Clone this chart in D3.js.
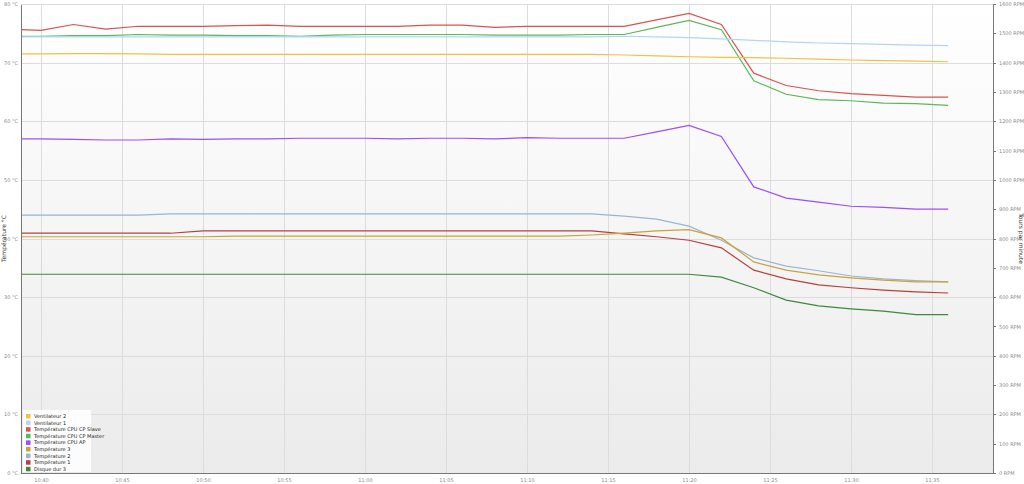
<!DOCTYPE html>
<html lang="fr">
<head>
  <meta charset="UTF-8">
  <title>Températures et ventilateurs</title>
  <style>
      body { margin: 0; background: #fff; }
      .line { fill: none; stroke-width: 1.2px; }
      .grid line { stroke: #dcdcdc; shape-rendering: crispEdges; }
      .grid path { stroke-width: 0; }
      .tick text { font: 5px "DejaVu Sans", sans-serif; fill: #8a8a8a; }
      .axis path, .axis line { stroke: #777; shape-rendering: crispEdges; }
  </style>
</head>
<body>
<div id="chart"></div>
<script src="https://d3js.org/d3.v7.min.js"></script>
<script>
  // relevés toutes les 2 minutes
  const times = ["10:38", "10:40", "10:42", "10:44", "10:46", "10:48", "10:50", "10:52", "10:54", "10:56",
                 "10:58", "11:00", "11:02", "11:04", "11:06", "11:08", "11:10", "11:12", "11:14", "11:16",
                 "11:18", "11:20", "11:22", "11:24", "11:26", "11:28", "11:30", "11:32", "11:34", "11:36"];

  const xTicks = ["10:40", "10:45", "10:50", "10:55", "11:00", "11:05", "11:10", "11:15", "11:20", "11:25", "11:30", "11:35"];
  const tempTicks = [0, 10, 20, 30, 40, 50, 60, 70, 80];
  const rpmTicks = [0, 100, 200, 300, 400, 500, 600, 700, 800, 900, 1000, 1100, 1200, 1300, 1400, 1500, 1600];

  // ventilateurs (RPM, axe de droite)
  const ventilateur2 = [1430, 1430, 1431, 1431, 1430, 1428, 1428, 1428, 1428, 1428, 1428, 1428, 1428, 1428, 1428,
                        1428, 1428, 1428, 1428, 1426, 1423, 1420, 1418, 1417, 1415, 1412, 1409, 1407, 1405, 1403];
  const ventilateur1 = [1488, 1488, 1488, 1488, 1488, 1488, 1488, 1488, 1488, 1488, 1488, 1488, 1488, 1488, 1488,
                        1488, 1488, 1488, 1488, 1490, 1488, 1485, 1481, 1476, 1471, 1467, 1465, 1462, 1460, 1458];

  // températures (°C, axe de gauche)
  const cpuCpSlave = [75.7, 75.5, 76.5, 75.7, 76.2, 76.2, 76.2, 76.3, 76.4, 76.2, 76.2, 76.2, 76.2, 76.4, 76.4,
                      76.0, 76.2, 76.2, 76.2, 76.2, 77.3, 78.4, 76.5, 68.2, 66.1, 65.2, 64.7, 64.4, 64.1, 64.1];
  const cpuCpMaster = [74.5, 74.5, 74.6, 74.6, 74.8, 74.7, 74.7, 74.6, 74.6, 74.5, 74.7, 74.8, 74.8, 74.8, 74.8,
                       74.7, 74.7, 74.7, 74.8, 74.8, 76.0, 77.2, 75.6, 66.9, 64.6, 63.7, 63.5, 63.1, 63.0, 62.7];
  const cpuAp = [57.0, 57.0, 56.9, 56.8, 56.8, 57.0, 56.9, 57.0, 57.0, 57.1, 57.1, 57.1, 57.0, 57.1, 57.1,
                 57.0, 57.2, 57.1, 57.1, 57.1, 58.2, 59.3, 57.4, 48.8, 46.9, 46.2, 45.5, 45.3, 45.0, 45.0];
  const temperature3 = [40.3, 40.3, 40.3, 40.3, 40.3, 40.3, 40.3, 40.4, 40.4, 40.4, 40.4, 40.4, 40.4, 40.4, 40.4,
                        40.4, 40.4, 40.4, 40.6, 40.9, 41.3, 41.5, 40.1, 36.0, 34.6, 33.8, 33.3, 32.9, 32.6, 32.6];
  const temperature2 = [44.0, 44.0, 44.0, 44.0, 44.0, 44.2, 44.2, 44.2, 44.2, 44.2, 44.2, 44.2, 44.2, 44.2, 44.2,
                        44.2, 44.2, 44.2, 44.2, 43.8, 43.3, 42.1, 39.7, 36.7, 35.3, 34.5, 33.6, 33.1, 32.8, 32.6];
  const temperature1 = [40.9, 40.9, 40.9, 40.9, 40.9, 40.9, 41.3, 41.3, 41.3, 41.3, 41.3, 41.3, 41.3, 41.3, 41.3,
                        41.3, 41.3, 41.3, 41.3, 40.8, 40.3, 39.7, 38.4, 34.6, 33.1, 32.1, 31.6, 31.2, 30.9, 30.7];
  const disqueDur3 = [33.9, 33.9, 33.9, 33.9, 33.9, 33.9, 33.9, 33.9, 33.9, 33.9, 33.9, 33.9, 33.9, 33.9, 33.9,
                      33.9, 33.9, 33.9, 33.9, 33.9, 33.9, 33.9, 33.4, 31.6, 29.5, 28.5, 28.0, 27.6, 27.0, 27.0];

  const series = [
    {name: "Ventilateur 2", color: "#f2c23e", axis: "rpm", values: ventilateur2},
    {name: "Ventilateur 1", color: "#b3d5f2", axis: "rpm", values: ventilateur1},
    {name: "Température CPU CP Slave", color: "#d9534f", axis: "temp", values: cpuCpSlave},
    {name: "Température CPU CP Master", color: "#5cb85c", axis: "temp", values: cpuCpMaster},
    {name: "Température CPU AP", color: "#9b4dff", axis: "temp", values: cpuAp},
    {name: "Température 3", color: "#c9a23a", axis: "temp", values: temperature3},
    {name: "Température 2", color: "#9ab5d0", axis: "temp", values: temperature2},
    {name: "Température 1", color: "#b8403c", axis: "temp", values: temperature1},
    {name: "Disque dur 3", color: "#3c8a3c", axis: "temp", values: disqueDur3}
  ];

  const W = 1024, H = 484;
  const margin = {top: 4, right: 31, bottom: 11, left: 21},
    width = W - margin.left - margin.right,
    height = H - margin.top - margin.bottom;

  const parse = d3.timeParse("%H:%M:%S");
  const toDate = s => parse(s + ":00");

  const svg = d3.select("#chart").append("svg")
    .attr("width", W)
    .attr("height", H);

  const defs = svg.append("defs");
  const grad = defs.append("linearGradient")
    .attr("id", "bg").attr("x1", 0).attr("y1", 0).attr("x2", 0).attr("y2", 1);
  grad.append("stop").attr("offset", "0%").attr("stop-color", "#ffffff");
  grad.append("stop").attr("offset", "100%").attr("stop-color", "#ebebeb");
  defs.append("clipPath").attr("id", "clip")
    .append("rect").attr("width", width).attr("height", height);

  const g = svg.append("g")
    .attr("transform", `translate(${margin.left},${margin.top})`);

  const x = d3.scaleTime()
    .domain([parse("10:38:46"), parse("11:38:46")])
    .range([0, width]);

  const yTemp = d3.scaleLinear().domain([0, 80]).range([height, 0]);
  const yRpm = d3.scaleLinear().domain([0, 1600]).range([height, 0]);

  g.append("rect")
    .attr("width", width)
    .attr("height", height)
    .attr("fill", "url(#bg)");

  const xTickDates = xTicks.map(toDate);

  g.append("g")
    .attr("class", "grid")
    .attr("transform", `translate(0,${height})`)
    .call(d3.axisBottom(x).tickValues(xTickDates).tickSize(-height).tickFormat(""));

  g.append("g")
    .attr("class", "grid")
    .call(d3.axisLeft(yTemp).tickValues(tempTicks).tickSize(-width).tickFormat(""));

  // courbes
  const plot = g.append("g").attr("clip-path", "url(#clip)");
  series.slice().reverse().forEach(s => {
    const yScale = s.axis === "rpm" ? yRpm : yTemp;
    const line = d3.line()
      .x((d, i) => x(toDate(times[i])))
      .y(d => yScale(d));
    plot.append("path")
      .datum(s.values)
      .attr("class", "line")
      .attr("stroke", s.color)
      .attr("d", line);
  });

  // axes
  const xAxis = g.append("g")
    .attr("class", "axis")
    .attr("transform", `translate(0,${height})`)
    .call(d3.axisBottom(x).tickValues(xTickDates).tickSize(0).tickPadding(5).tickFormat(d3.timeFormat("%H:%M")));
  xAxis.select(".domain").attr("stroke", "#666").attr("stroke-width", 1.5);

  const yAxisL = g.append("g")
    .attr("class", "axis")
    .call(d3.axisLeft(yTemp).tickValues(tempTicks).tickSize(0).tickPadding(3).tickFormat(d => d + " °C"));
  yAxisL.select(".domain").attr("stroke", "#666").attr("stroke-width", 1.5);

  const yAxisR = g.append("g")
    .attr("class", "axis")
    .attr("transform", `translate(${width},0)`)
    .call(d3.axisRight(yRpm).tickValues(rpmTicks).tickSize(3).tickPadding(3).tickFormat(d => d + " RPM"));
  yAxisR.select(".domain").attr("stroke", "#666").attr("stroke-width", 1.5);
  yAxisR.selectAll(".tick line").attr("stroke", "#ccc");

  g.append("text")
    .attr("transform", "rotate(-90)")
    .attr("x", -height / 2)
    .attr("y", -15)
    .attr("text-anchor", "middle")
    .style("font", "6px 'DejaVu Sans', sans-serif")
    .style("fill", "#333")
    .text("Température °C");

  g.append("text")
    .attr("transform", `translate(${width + 26},${height / 2}) rotate(90)`)
    .attr("text-anchor", "middle")
    .style("font", "6px 'DejaVu Sans', sans-serif")
    .style("fill", "#333")
    .text("Tours par minute");

  // légende
  const legend = g.append("g").attr("transform", `translate(2,${height - 63})`);
  legend.append("rect")
    .attr("width", 68)
    .attr("height", 62)
    .attr("fill", "#fff")
    .attr("fill-opacity", 0.85);
  series.forEach((s, i) => {
    const row = legend.append("g").attr("transform", `translate(3,${4 + i * 6.6})`);
    row.append("rect").attr("width", 4.5).attr("height", 4.5).attr("fill", s.color);
    row.append("text")
      .attr("x", 8)
      .attr("y", 4)
      .style("font", "5px 'DejaVu Sans', sans-serif")
      .style("fill", "#222")
      .text(s.name);
  });
</script>
</body>
</html>
